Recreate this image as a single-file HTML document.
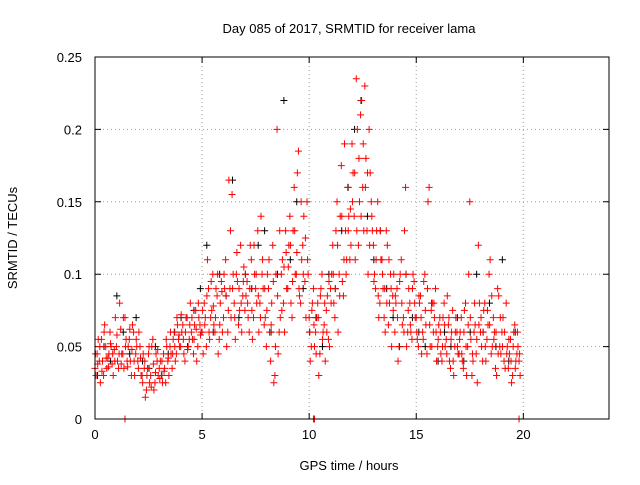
<!DOCTYPE html>
<html><head><meta charset="utf-8"><style>
body{margin:0;background:#fff}
svg text{font-family:"Liberation Sans",sans-serif;font-size:13px;fill:#000}
</style></head><body>
<svg id="chart" width="640" height="480" xmlns="http://www.w3.org/2000/svg">
<text x="349" y="33" text-anchor="middle">Day 085 of 2017, SRMTID for receiver lama</text>
<text x="349" y="470" text-anchor="middle">GPS time / hours</text>
<text transform="translate(17,238) rotate(-90)" text-anchor="middle">SRMTID / TECUs</text>
<g id="grid"></g>
<g id="ticks"></g>
<g id="black"></g>
<g id="red"></g>
<rect x="95" y="57" width="514" height="362" fill="none" stroke="#000" stroke-width="1"/>
</svg>
<script>
const xTicks=[0,5,10,15,20];
const yTicks=[0,0.05,0.1,0.15,0.2,0.25];
const yTickLabels=["0","0.05","0.1","0.15","0.2","0.25"];
const redStep=0.1;
const redValuesA=[.035,.045,.04,.055,.03,.05,.042,.06,.038,.048,
.05,.035,.062,.045,.07,.04,.055,.03,.06,.045,
.04,.05,.03,.035,.02,.045,.03,.055,.025,.04,
.035,.03,.045,.025,.04,.05,.035,.06,.045,.055,
.05,.065,.04,.07,.055,.06,.045,.075,.05,.065,
.06,.08,.05,.09,.07,.1,.06,.085,.055,.095,
.07,.11,.06,.09,.155,.08,.1,.065,.12,.085,
.075,.095,.06,.11,.07,.09,.13,.08,.1,.065,
.05,.09,.04,.12,.03,.2,.06,.1,.08,.13,
.09,.14,.07,.16,.1,.185,.08,.12,.095,.15,
.07,.05,.09,.06,.08,.045,.1,.065,.075,.055,
.09,.12,.07,.15,.1,.175,.085,.13,.16,.11,
.19,.14,.235,.12,.21,.16,.23,.13,.2,.15,
.12,.09,.15,.08,.11,.07,.13,.065,.1,.085,
.06,.09,.05,.11,.07,.16,.06,.08,.055,.095,
.07,.05,.085,.06,.1,.045,.16,.075,.06,.09,
.05,.07,.04,.08,.055,.065,.035,.075,.05,.06,
.045,.07,.035,.08,.05,.15,.03,.06,.045,.12,
.06,.04,.08,.055,.1,.045,.07,.035,.09,.05,
.06,.04,.08,.035,.055,.03,.065,.045,.04];
const redValuesB=[.03,.055,.025,.04,.065,.035,.045,.05,.03,.07,
.04,.08,.045,.035,.055,.05,.04,.065,.03,.05,
.06,.03,.045,.015,.035,.025,.05,.02,.045,.03,
.04,.025,.035,.05,.03,.045,.055,.04,.065,.05,
.06,.045,.07,.05,.08,.055,.065,.04,.07,.06,
.045,.07,.11,.055,.075,.065,.09,.045,.08,.06,
.09,.05,.165,.07,.1,.055,.095,.075,.06,.105,
.085,.07,.12,.055,.1,.08,.06,.14,.09,.07,
.1,.06,.08,.025,.1,.045,.07,.11,.06,.09,
.12,.08,.13,.1,.17,.085,.11,.14,.07,.1,
.04,.08,.05,.07,.03,.09,.06,.04,.085,.05,
.1,.08,.13,.06,.14,.095,.19,.11,.14,.12,
.17,.11,.2,.15,.22,.13,.18,.1,.17,.13,
.1,.13,.07,.11,.09,.06,.12,.08,.05,.1,
.08,.04,.1,.065,.13,.05,.09,.06,.1,.07,
.055,.08,.045,.095,.065,.15,.05,.08,.07,.04,
.065,.045,.07,.05,.085,.04,.06,.03,.07,.045,
.06,.04,.075,.03,.1,.055,.04,.065,.025,.08,
.05,.075,.04,.065,.11,.05,.06,.03,.085,.045,
.07,.035,.05,.045,.025,.06,.04,.05,.03];
const redValuesC=[.045,.038,.05,.033,.06,.042,.036,.052,.045,.04,
.058,.045,.038,.07,.05,.036,.062,.048,.04,.055,
.035,.042,.025,.04,.03,.05,.022,.038,.032,.048,
.028,.04,.033,.055,.042,.06,.045,.05,.07,.058,
.072,.055,.06,.048,.065,.07,.055,.062,.08,.058,
.075,.065,.085,.06,.095,.078,.07,.1,.065,.088,
.1,.085,.075,.13,.09,.07,.115,.09,.08,.095,
.1,.08,.09,.075,.12,.1,.085,.07,.11,.09,
.075,.11,.065,.095,.05,.085,.13,.075,.105,.115,
.105,.12,.095,.13,.115,.09,.15,.1,.125,.11,
.06,.075,.065,.045,.07,.085,.055,.08,.06,.095,
.08,.1,.09,.12,.085,.14,.11,.1,.13,.145,
.15,.17,.13,.18,.14,.19,.16,.17,.12,.14,
.095,.11,.085,.13,.1,.09,.08,.11,.09,.075,
.085,.07,.095,.08,.06,.1,.075,.065,.09,.08,
.06,.085,.07,.055,.075,.09,.065,.05,.08,.06,
.055,.06,.05,.065,.045,.07,.055,.04,.06,.05,
.055,.045,.06,.05,.065,.07,.045,.08,.055,.065,
.07,.06,.05,.075,.065,.085,.055,.06,.045,.07,
.05,.06,.045,.055,.04,.05,.035,.06,.045];
const blackStep=0.3;
const blackValues=[.03,.05,.04,.085,.06,.045,.07,.04,.035,.05,
.03,.045,.06,.07,.05,.075,.09,.12,.06,.1,
.085,.165,.07,.1,.09,.12,.13,.06,.1,.22,
.11,.15,.09,.06,.07,.05,.1,.09,.13,.16,
.2,.22,.14,.11,.13,.09,.07,.05,.1,.07,
.06,.05,.08,.04,.06,.05,.07,.04,.06,.1,
.06,.08,.05,.11,.04,.06];
const zeroHours=[1.4,10.2,10.25,19.8];
const zeroValues=[0,0,0,0];

const X0=95,X1=609,Y0=419,Y1=57,XMAX=24,YMAX=0.25;
const sx=h=>X0+h/XMAX*(X1-X0);
const sy=v=>Y0-v/YMAX*(Y0-Y1);
const NS="http://www.w3.org/2000/svg";
function mk(tag,attrs,parent){const e=document.createElementNS(NS,tag);for(const k in attrs)e.setAttribute(k,attrs[k]);parent.appendChild(e);return e;}
const grid=document.getElementById('grid'),ticks=document.getElementById('ticks');
xTicks.forEach(t=>{
  const x=sx(t);
  if(t>0){const g=mk('line',{x1:x,y1:Y0,x2:x,y2:Y1,stroke:'#a0a0a0','stroke-dasharray':'1,3'},grid);
  
  }
  const tk=mk('path',{d:`M${x},${Y0}V${Y0-6}M${x},${Y1}V${Y1+6}`,stroke:'#000'},ticks);
  
  
  const lb=mk('text',{x:x,y:Y0+20,'text-anchor':'middle'},ticks);lb.textContent=t;
  
  
});
yTicks.forEach((t,i)=>{
  const y=sy(t);
  if(i>0&&i<yTicks.length-1){const g=mk('line',{x1:X0,y1:y,x2:X1,y2:y,stroke:'#a0a0a0','stroke-dasharray':'1,3'},grid);
  
  }
  const tk=mk('path',{d:`M${X0},${y}H${X0+6}M${X1},${y}H${X1-6}`,stroke:'#000'},ticks);
  
  
  const lb=mk('text',{x:X0-13,y:y+5,'text-anchor':'end'},ticks);lb.textContent=yTickLabels[i];
  
  
});
function plus(h,v,color,parent){
  const x=sx(h),y=sy(v);
  const p=mk('path',{d:`M${x-3.5},${y}H${x+3.5}M${x},${y-3.5}V${y+3.5}`,stroke:color,'stroke-width':1,fill:'none'},parent);
  
  
}
const bk=document.getElementById('black'),rd=document.getElementById('red');
blackValues.forEach((v,i)=>plus(i*blackStep+0.12,v,'#000',bk));
redValuesA.forEach((v,i)=>plus(i*redStep,v,'#ff0000',rd));
redValuesB.forEach((v,i)=>plus(i*redStep+0.05,v,'#ff0000',rd));
redValuesC.forEach((v,i)=>plus(i*redStep+0.025,v,'#ff0000',rd));
zeroHours.forEach((h,i)=>plus(h,zeroValues[i],'#ff0000',rd));
</script>
</body></html>
